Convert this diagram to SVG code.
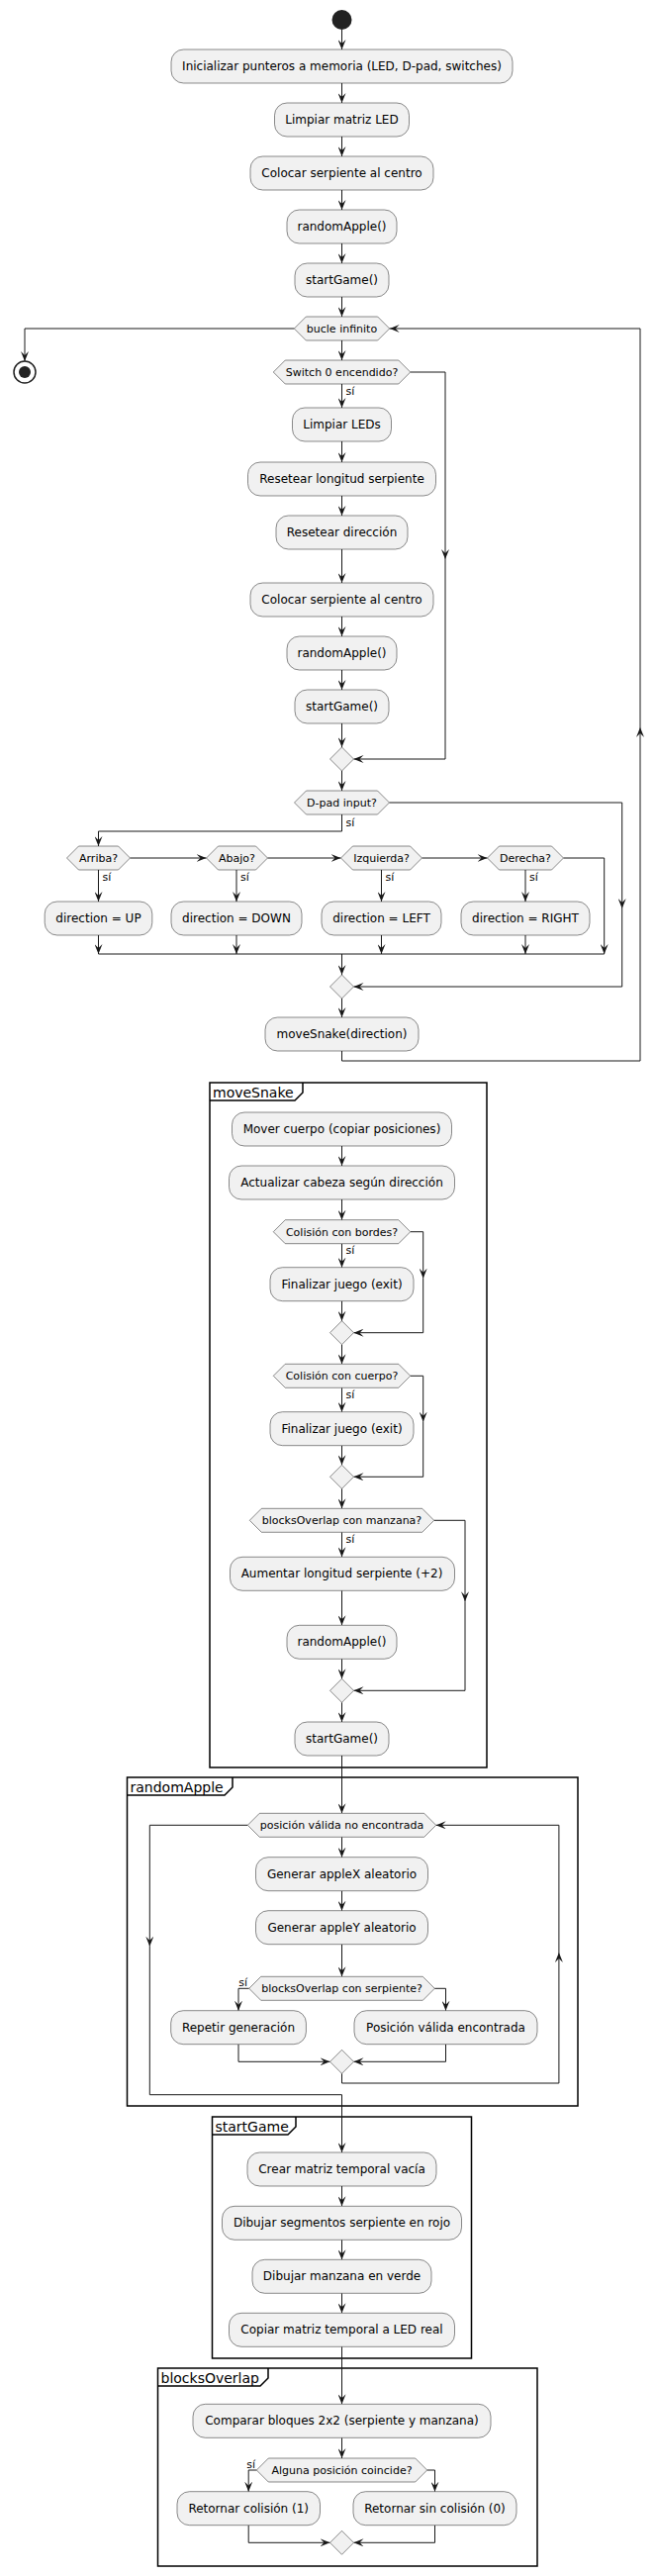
<svg xmlns="http://www.w3.org/2000/svg" width="663" height="2603" viewBox="0 0 663 2603">
<style>
.box{fill:#F1F1F1;stroke:#181818;stroke-width:0.5}
.t{font-family:"DejaVu Sans",sans-serif;font-size:12px;fill:#000;text-anchor:middle}
.th{font-family:"DejaVu Sans",sans-serif;font-size:11px;fill:#000;text-anchor:middle}
.lb{font-family:"DejaVu Sans",sans-serif;font-size:11px;fill:#000}
.ft{font-family:"DejaVu Sans",sans-serif;font-size:14px;fill:#000}
.ln{fill:none;stroke:#181818;stroke-width:1}
.ar{fill:none;stroke:#181818;stroke-width:1;marker-end:url(#ah)}
.fr{fill:none;stroke:#000;stroke-width:1.5}
</style>
<defs>
<marker id="ah" viewBox="0 0 10 8" refX="10" refY="4" markerWidth="10" markerHeight="8" markerUnits="userSpaceOnUse" orient="auto"><path d="M0,0 L10,4 L0,8 L4,4 Z" fill="#181818"/></marker>
</defs>
<rect width="663" height="2603" fill="#FFFFFF"/>

<g id="frames">
<g id="frame-moveSnake"><rect class="fr" x="212" y="1094" width="280" height="692"/><path class="fr" d="M212,1112 H298 L306,1104 V1094"/><text class="ft" x="215" y="1109">moveSnake</text></g>
<g id="frame-randomApple"><rect class="fr" x="128.5" y="1796" width="455.5" height="332"/><path class="fr" d="M128.5,1814 H227 L235,1806 V1796"/><text class="ft" x="131.5" y="1811">randomApple</text></g>
<g id="frame-startGame"><rect class="fr" x="214.5" y="2139" width="262" height="244"/><path class="fr" d="M214.5,2157 H291 L299,2149 V2139"/><text class="ft" x="217.5" y="2154">startGame</text></g>
<g id="frame-blocksOverlap"><rect class="fr" x="159.5" y="2393" width="383.5" height="200"/><path class="fr" d="M159.5,2411 H263 L271,2403 V2393"/><text class="ft" x="162.5" y="2408">blocksOverlap</text></g>
</g>

<g id="connectors">
<path class="ar" d="M345.5,30 V50"/>
<path class="ar" d="M345.5,84 V104"/>
<path class="ar" d="M345.5,138 V158"/>
<path class="ar" d="M345.5,192 V212"/>
<path class="ar" d="M345.5,246 V266"/>
<path class="ar" d="M345.5,300 V320"/>
<path class="ar" d="M297.3,332 H25 V365"/>
<path class="ar" d="M345.5,344 V364"/>
<path class="ar" d="M345.5,388 V412"/>
<text class="lb" x="349.5" y="398.5">sí</text>
<path class="ar" d="M345.5,446 V467"/>
<path class="ar" d="M345.5,501 V521"/>
<path class="ar" d="M345.5,555 V589"/>
<path class="ar" d="M345.5,623 V643"/>
<path class="ar" d="M345.5,677 V697"/>
<path class="ar" d="M345.5,731 V755"/>
<path class="ar" d="M414.75,376 H450 V565"/>
<path class="ar" d="M450,565 V767 H357.5"/>
<path class="ar" d="M345.5,779 V799"/>
<path class="ar" d="M345.5,823 V840 H99.5 V855"/>
<text class="lb" x="349.5" y="834.5">sí</text>
<path class="ar" d="M393.5,811 H628.7 V918"/>
<path class="ar" d="M628.7,918 V997 H357.5"/>
<path class="ar" d="M131.5,867 H208.5"/>
<path class="ar" d="M270.5,867 H344.5"/>
<path class="ar" d="M426.5,867 H492.5"/>
<path class="ar" d="M569.5,867 H610.7 V964"/>
<path class="ar" d="M99.5,879 V911"/>
<path class="ar" d="M239,879 V911"/>
<path class="ar" d="M385.5,879 V911"/>
<path class="ar" d="M531,879 V911"/>
<text class="lb" x="103.5" y="889.5">sí</text>
<text class="lb" x="243" y="889.5">sí</text>
<text class="lb" x="389.5" y="889.5">sí</text>
<text class="lb" x="535" y="889.5">sí</text>
<path class="ar" d="M99.5,945 V964"/>
<path class="ar" d="M239,945 V964"/>
<path class="ar" d="M385.5,945 V964"/>
<path class="ar" d="M531,945 V964"/>
<path class="ln" d="M99.5,964 H610.7"/>
<path class="ar" d="M345.5,964 V985"/>
<path class="ar" d="M345.5,1009 V1028"/>
<path class="ar" d="M345.5,1062 V1072 H647 V735"/>
<path class="ar" d="M647,735 V332 H393.7"/>

<path class="ar" d="M345.5,1158 V1178"/>
<path class="ar" d="M345.5,1212 V1232.7"/>
<path class="ar" d="M345.5,1256.7 V1280.7"/>
<text class="lb" x="349.5" y="1267">sí</text>
<path class="ar" d="M414.75,1244.7 H427.7 V1291.7"/>
<path class="ar" d="M427.7,1291.7 V1346.7 H357.5"/>
<path class="ar" d="M345.5,1314.7 V1334.7"/>
<path class="ar" d="M345.5,1358.7 V1378.3"/>
<path class="ar" d="M345.5,1402.3 V1426.7"/>
<text class="lb" x="349.5" y="1412.8">sí</text>
<path class="ar" d="M414.75,1390.3 H427.7 V1436.7"/>
<path class="ar" d="M427.7,1436.7 V1492.3 H357.5"/>
<path class="ar" d="M345.5,1460.7 V1480.3"/>
<path class="ar" d="M345.5,1504.3 V1524.3"/>
<path class="ar" d="M345.5,1548.3 V1573.3"/>
<text class="lb" x="349.5" y="1558.8">sí</text>
<path class="ar" d="M438.7,1536.3 H470 V1618.3"/>
<path class="ar" d="M470,1618.3 V1708.3 H357.5"/>
<path class="ar" d="M345.5,1607.3 V1642.3"/>
<path class="ar" d="M345.5,1676.3 V1696.3"/>
<path class="ar" d="M345.5,1720.3 V1740"/>
<path class="ar" d="M345.5,1774 V1832.3"/>

<path class="ar" d="M250.3,1844.3 H151.3 V1966.7"/>
<path class="ar" d="M151.3,1966.7 V2116.7 H345.5 V2175"/>
<path class="ar" d="M345.5,1856.3 V1876.7"/>
<path class="ar" d="M345.5,1910.7 V1930.7"/>
<path class="ar" d="M345.5,1964.7 V1997.3"/>
<path class="ar" d="M251.7,2009.3 H241 V2031.7"/>
<text class="lb" x="250" y="2007" text-anchor="end">sí</text>
<path class="ar" d="M439.3,2009.3 H450.5 V2031.7"/>
<path class="ar" d="M241,2065.7 V2083.3 H333.5"/>
<path class="ar" d="M450.5,2065.7 V2083.3 H357.5"/>
<path class="ar" d="M345.5,2095.3 V2105 H564.9 V1973"/>
<path class="ar" d="M564.9,1973 V1844.3 H440.7"/>

<path class="ar" d="M345.5,2209 V2229.3"/>
<path class="ar" d="M345.5,2263.3 V2283.3"/>
<path class="ar" d="M345.5,2317.3 V2337.3"/>
<path class="ar" d="M345.5,2371.3 V2429.3"/>

<path class="ar" d="M345.5,2463.3 V2484"/>
<path class="ar" d="M259.3,2496 H251.2 V2517.7"/>
<text class="lb" x="258" y="2494" text-anchor="end">sí</text>
<path class="ar" d="M431.7,2496 H439.5 V2517.7"/>
<path class="ar" d="M251.2,2551.7 V2569.3 H333.5"/>
<path class="ar" d="M439.5,2551.7 V2569.3 H357.5"/>
</g>

<g id="start"><circle cx="345.5" cy="20" r="10" fill="#222222"/></g>
<g id="n-init"><rect class="box" x="173" y="50" width="345" height="34" rx="12.5"/><text class="t" x="345.5" y="71">Inicializar punteros a memoria (LED, D-pad, switches)</text></g>
<g id="n-clear"><rect class="box" x="277.5" y="104" width="136" height="34" rx="12.5"/><text class="t" x="345.5" y="125">Limpiar matriz LED</text></g>
<g id="n-center"><rect class="box" x="253" y="158" width="185" height="34" rx="12.5"/><text class="t" x="345.5" y="179">Colocar serpiente al centro</text></g>
<g id="n-apple"><rect class="box" x="290" y="212" width="111" height="34" rx="12.5"/><text class="t" x="345.5" y="233">randomApple()</text></g>
<g id="n-start"><rect class="box" x="298" y="266" width="95" height="34" rx="12.5"/><text class="t" x="345.5" y="287">startGame()</text></g>
<g id="h-loop"><polygon class="box" points="297.3,332 309.3,320 381.7,320 393.7,332 381.7,344 309.3,344"/><text class="th" x="345.5" y="336">bucle infinito</text></g>
<g id="stop"><circle cx="25" cy="376" r="11" fill="none" stroke="#222222" stroke-width="1.5"/><circle cx="25" cy="376" r="6" fill="#222222"/></g>
<g id="h-switch"><polygon class="box" points="276.25,376 288.25,364 402.75,364 414.75,376 402.75,388 288.25,388"/><text class="th" x="345.5" y="380">Switch 0 encendido?</text></g>
<g id="n-clearleds"><rect class="box" x="295.5" y="412" width="100" height="34" rx="12.5"/><text class="t" x="345.5" y="433">Limpiar LEDs</text></g>
<g id="n-resetlen"><rect class="box" x="250.5" y="467" width="190" height="34" rx="12.5"/><text class="t" x="345.5" y="488">Resetear longitud serpiente</text></g>
<g id="n-resetdir"><rect class="box" x="279" y="521" width="133" height="34" rx="12.5"/><text class="t" x="345.5" y="542">Resetear dirección</text></g>
<g id="n-center2"><rect class="box" x="253" y="589" width="185" height="34" rx="12.5"/><text class="t" x="345.5" y="610">Colocar serpiente al centro</text></g>
<g id="n-apple2"><rect class="box" x="290" y="643" width="111" height="34" rx="12.5"/><text class="t" x="345.5" y="664">randomApple()</text></g>
<g id="n-start2"><rect class="box" x="298" y="697" width="95" height="34" rx="12.5"/><text class="t" x="345.5" y="718">startGame()</text></g>
<g id="m-1"><polygon class="box" points="345.5,755 357.5,767 345.5,779 333.5,767"/></g>
<g id="h-dpad"><polygon class="box" points="297.5,811 309.5,799 381.5,799 393.5,811 381.5,823 309.5,823"/><text class="th" x="345.5" y="815">D-pad input?</text></g>
<g id="h-up"><polygon class="box" points="67.5,867 79.5,855 119.5,855 131.5,867 119.5,879 79.5,879"/><text class="th" x="99.5" y="871">Arriba?</text></g>
<g id="h-down"><polygon class="box" points="208.5,867 220.5,855 258.5,855 270.5,867 258.5,879 220.5,879"/><text class="th" x="239.5" y="871">Abajo?</text></g>
<g id="h-left"><polygon class="box" points="344.5,867 356.5,855 414.5,855 426.5,867 414.5,879 356.5,879"/><text class="th" x="385.5" y="871">Izquierda?</text></g>
<g id="h-right"><polygon class="box" points="492.5,867 504.5,855 557.5,855 569.5,867 557.5,879 504.5,879"/><text class="th" x="531" y="871">Derecha?</text></g>
<g id="n-up"><rect class="box" x="45.2" y="911" width="108.6" height="34" rx="12.5"/><text class="t" x="99.5" y="932">direction = UP</text></g>
<g id="n-down"><rect class="box" x="173" y="911" width="132" height="34" rx="12.5"/><text class="t" x="239" y="932">direction = DOWN</text></g>
<g id="n-left"><rect class="box" x="325" y="911" width="121" height="34" rx="12.5"/><text class="t" x="385.5" y="932">direction = LEFT</text></g>
<g id="n-right"><rect class="box" x="466" y="911" width="130" height="34" rx="12.5"/><text class="t" x="531" y="932">direction = RIGHT</text></g>
<g id="m-2"><polygon class="box" points="345.5,985 357.5,997 345.5,1009 333.5,997"/></g>
<g id="n-move"><rect class="box" x="268" y="1028" width="155" height="34" rx="12.5"/><text class="t" x="345.5" y="1049">moveSnake(direction)</text></g>

<g id="n-body"><rect class="box" x="234.5" y="1124" width="222" height="34" rx="12.5"/><text class="t" x="345.5" y="1145">Mover cuerpo (copiar posiciones)</text></g>
<g id="n-head"><rect class="box" x="231.5" y="1178" width="228" height="34" rx="12.5"/><text class="t" x="345.5" y="1199">Actualizar cabeza según dirección</text></g>
<g id="h-borders"><polygon class="box" points="276.25,1244.7 288.25,1232.7 402.75,1232.7 414.75,1244.7 402.75,1256.7 288.25,1256.7"/><text class="th" x="345.5" y="1248.7">Colisión con bordes?</text></g>
<g id="n-exit1"><rect class="box" x="273" y="1280.7" width="145" height="34" rx="12.5"/><text class="t" x="345.5" y="1301.7">Finalizar juego (exit)</text></g>
<g id="m-3"><polygon class="box" points="345.5,1334.7 357.5,1346.7 345.5,1358.7 333.5,1346.7"/></g>
<g id="h-bodycol"><polygon class="box" points="276.25,1390.3 288.25,1378.3 402.75,1378.3 414.75,1390.3 402.75,1402.3 288.25,1402.3"/><text class="th" x="345.5" y="1394.3">Colisión con cuerpo?</text></g>
<g id="n-exit2"><rect class="box" x="273" y="1426.7" width="145" height="34" rx="12.5"/><text class="t" x="345.5" y="1447.7">Finalizar juego (exit)</text></g>
<g id="m-4"><polygon class="box" points="345.5,1480.3 357.5,1492.3 345.5,1504.3 333.5,1492.3"/></g>
<g id="h-eat"><polygon class="box" points="252.3,1536.3 264.3,1524.3 426.7,1524.3 438.7,1536.3 426.7,1548.3 264.3,1548.3"/><text class="th" x="345.5" y="1540.3">blocksOverlap con manzana?</text></g>
<g id="n-grow"><rect class="box" x="232.5" y="1573.3" width="227" height="34" rx="12.5"/><text class="t" x="345.5" y="1594.3">Aumentar longitud serpiente (+2)</text></g>
<g id="n-apple3"><rect class="box" x="290" y="1642.3" width="111" height="34" rx="12.5"/><text class="t" x="345.5" y="1663.3">randomApple()</text></g>
<g id="m-5"><polygon class="box" points="345.5,1696.3 357.5,1708.3 345.5,1720.3 333.5,1708.3"/></g>
<g id="n-start3"><rect class="box" x="298" y="1740" width="95" height="34" rx="12.5"/><text class="t" x="345.5" y="1761">startGame()</text></g>

<g id="h-valid"><polygon class="box" points="250.3,1844.3 262.3,1832.3 428.7,1832.3 440.7,1844.3 428.7,1856.3 262.3,1856.3"/><text class="th" x="345.5" y="1848.3">posición válida no encontrada</text></g>
<g id="n-genx"><rect class="box" x="258.5" y="1876.7" width="174" height="34" rx="12.5"/><text class="t" x="345.5" y="1897.7">Generar appleX aleatorio</text></g>
<g id="n-geny"><rect class="box" x="258.5" y="1930.7" width="174" height="34" rx="12.5"/><text class="t" x="345.5" y="1951.7">Generar appleY aleatorio</text></g>
<g id="h-overlap"><polygon class="box" points="251.7,2009.3 263.7,1997.3 427.3,1997.3 439.3,2009.3 427.3,2021.3 263.7,2021.3"/><text class="th" x="345.5" y="2013.3">blocksOverlap con serpiente?</text></g>
<g id="n-repeat"><rect class="box" x="172.7" y="2031.7" width="136.7" height="34" rx="12.5"/><text class="t" x="241" y="2052.7">Repetir generación</text></g>
<g id="n-found"><rect class="box" x="358" y="2031.7" width="185" height="34" rx="12.5"/><text class="t" x="450.5" y="2052.7">Posición válida encontrada</text></g>
<g id="m-6"><polygon class="box" points="345.5,2071.3 357.5,2083.3 345.5,2095.3 333.5,2083.3"/></g>

<g id="n-tmp"><rect class="box" x="250" y="2175" width="191" height="34" rx="12.5"/><text class="t" x="345.5" y="2196">Crear matriz temporal vacía</text></g>
<g id="n-drawsnake"><rect class="box" x="224.5" y="2229.3" width="242" height="34" rx="12.5"/><text class="t" x="345.5" y="2250.3">Dibujar segmentos serpiente en rojo</text></g>
<g id="n-drawapple"><rect class="box" x="255" y="2283.3" width="181" height="34" rx="12.5"/><text class="t" x="345.5" y="2304.3">Dibujar manzana en verde</text></g>
<g id="n-copy"><rect class="box" x="231.5" y="2337.3" width="228" height="34" rx="12.5"/><text class="t" x="345.5" y="2358.3">Copiar matriz temporal a LED real</text></g>

<g id="n-compare"><rect class="box" x="195" y="2429.3" width="301" height="34" rx="12.5"/><text class="t" x="345.5" y="2450.3">Comparar bloques 2x2 (serpiente y manzana)</text></g>
<g id="h-match"><polygon class="box" points="259.3,2496 271.3,2484 419.7,2484 431.7,2496 419.7,2508 271.3,2508"/><text class="th" x="345.5" y="2500">Alguna posición coincide?</text></g>
<g id="n-ret1"><rect class="box" x="179" y="2517.7" width="144.5" height="34" rx="12.5"/><text class="t" x="251.2" y="2538.7">Retornar colisión (1)</text></g>
<g id="n-ret0"><rect class="box" x="357" y="2517.7" width="165" height="34" rx="12.5"/><text class="t" x="439.5" y="2538.7">Retornar sin colisión (0)</text></g>
<g id="m-7"><polygon class="box" points="345.5,2557.3 357.5,2569.3 345.5,2581.3 333.5,2569.3"/></g>
</svg>
